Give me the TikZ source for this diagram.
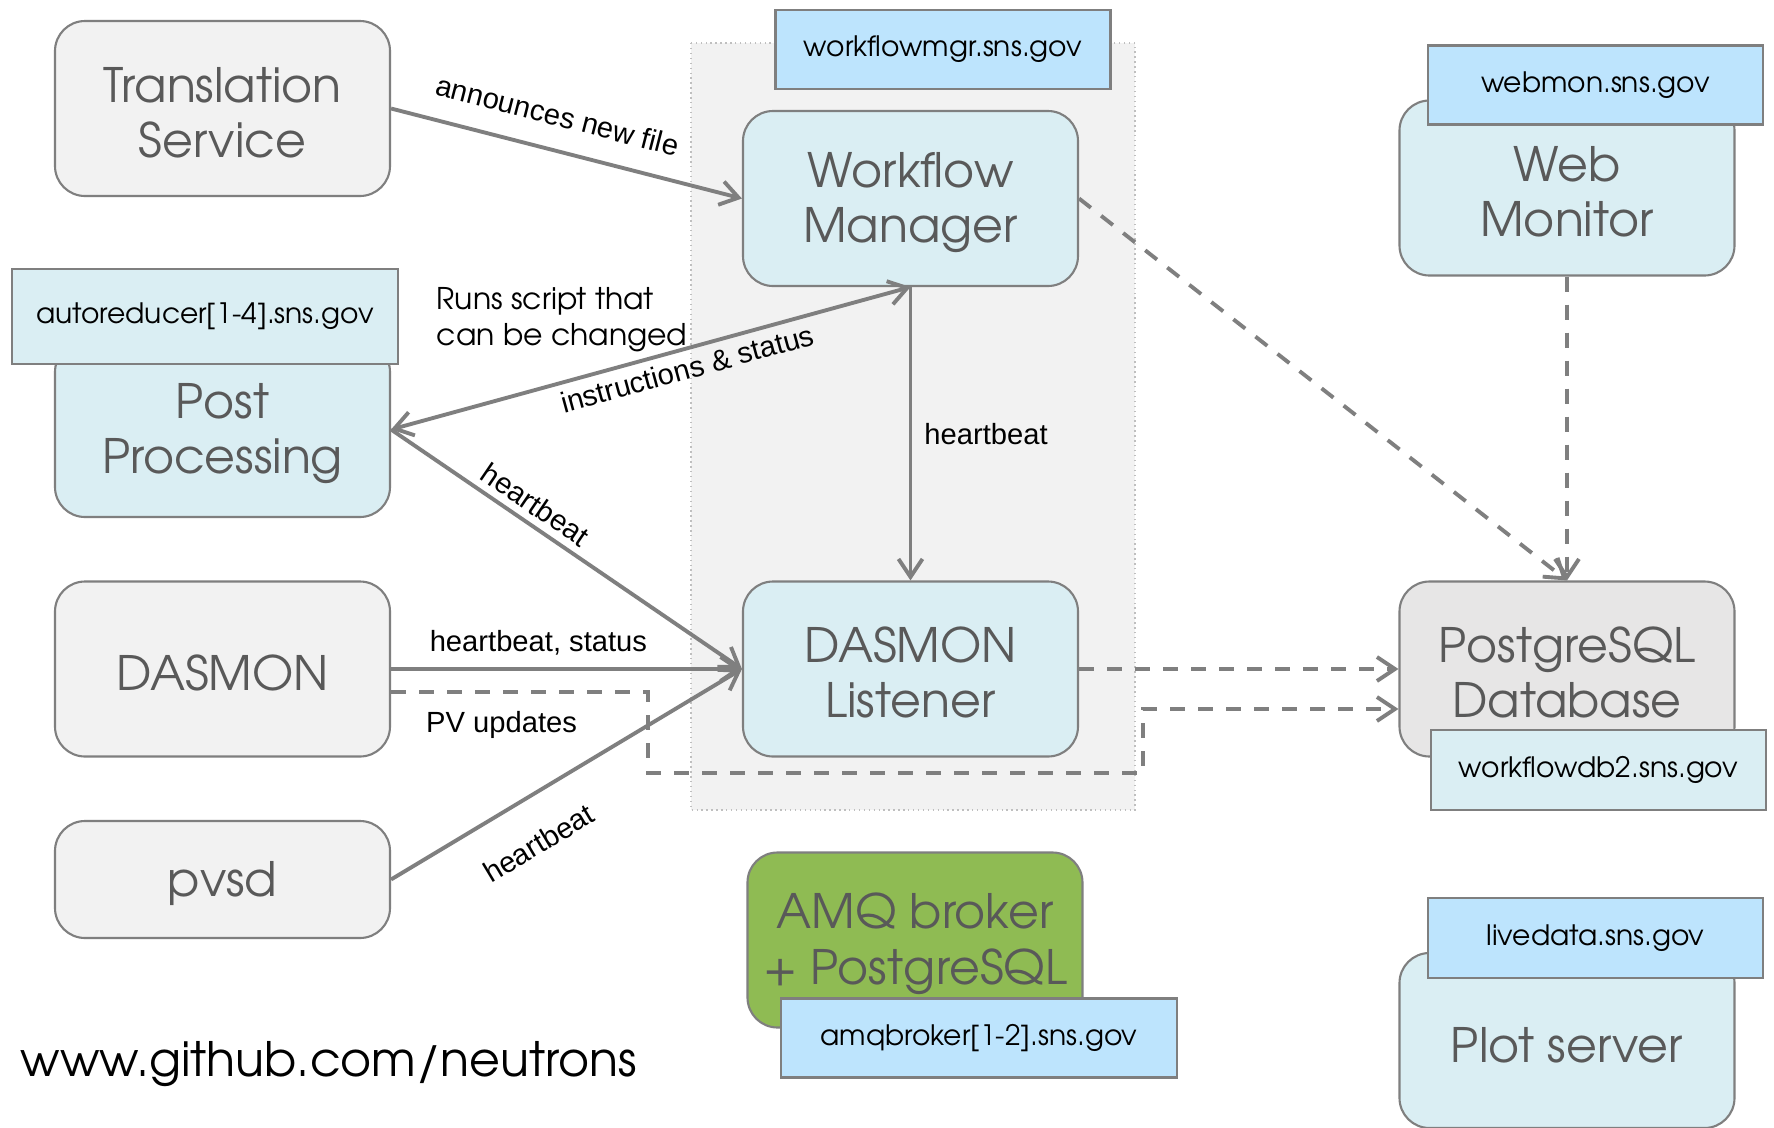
\documentclass[tikz,border=0pt]{standalone}
\usepackage{fontspec}
\setmainfont{Liberation Sans}
\newfontfamily\gothic{TeX Gyre Adventor}
\usetikzlibrary{positioning, arrows.meta}

\definecolor{boxgray}{HTML}{F2F2F2}
\definecolor{boxblue}{HTML}{DAEEF3}
\definecolor{hostblue}{HTML}{BDE4FD}
\definecolor{dbgray}{HTML}{E7E6E6}
\definecolor{amqgreen}{HTML}{8FBB53}
\definecolor{linegray}{HTML}{7F7F7F}
\definecolor{textgray}{HTML}{595959}

\begin{document}
\begin{tikzpicture}[
    >={Straight Barb[length=1.8mm, width=2.4mm]},
    box/.style={draw=linegray, line width=0.6pt, rounded corners=0.3cm, fill=boxgray,
        minimum width=3.35cm, minimum height=1.75cm, align=center, text=textgray,
        font=\gothic\fontsize{13.5}{15.7}\selectfont,
        execute at begin node={\rule{0pt}{12.5pt}}},
    twoline/.style={box, execute at begin node={\rule{0pt}{28pt}}},
    hostbox/.style={draw=linegray, line width=0.7pt, fill=hostblue, minimum width=3.35cm,
        minimum height=0.79cm, font=\gothic\fontsize{8}{9.6}\selectfont},
    link/.style={->, draw=linegray, line width=1.1pt},
    dlink/.style={link, dash pattern=on 1.5mm off 1.3mm},
    lbl/.style={font=\fontsize{8.3}{10}\selectfont, inner sep=2pt}
]
    \useasboundingbox[fill=white] (0,0) rectangle (17.74,-11.28);

    % workflow host group
    \draw[densely dotted, draw=black!25, fill=boxgray] (6.91,-0.43) rectangle (11.35,-8.10);

    % Boxes
    \node[twoline] (trans) at (2.225,-1.085) {Translation\\Service};
    \node[twoline, fill=boxblue] (wfm) at (9.105,-1.985) {Workflow\\Manager};
    \node[twoline, fill=boxblue] (web) at (15.67,-1.88) {Web\\Monitor};
    \node[twoline, fill=boxblue] (post) at (2.225,-4.295) {Post\\Processing};
    \node[box] (dasmon) at (2.225,-6.69) {DASMON};
    \node[twoline, fill=boxblue] (listener) at (9.105,-6.69) {DASMON\\Listener};
    \node[twoline, fill=dbgray] (db) at (15.67,-6.69) {PostgreSQL\\Database};
    \node[box, minimum height=1.17cm] (pvsd) at (2.225,-8.795) {pvsd};
    \node[twoline, fill=amqgreen] (amq) at (9.15,-9.4) {AMQ broker\\+ PostgreSQL};
    \node[box, fill=boxblue] (plot) at (15.67,-10.405) {Plot server};

    % Host names
    \node[hostbox] (wfmhost) at (9.43,-0.495) {workflowmgr.sns.gov};
    \node[hostbox] (webhost) at (15.955,-0.85) {webmon.sns.gov};
    \node[hostbox, fill=boxblue, minimum width=3.86cm, minimum height=0.95cm] (arhost) at (2.05,-3.165) {autoreducer[1-4].sns.gov};
    \node[hostbox, fill=boxblue, minimum height=0.8cm] (dbhost) at (15.985,-7.70) {workflowdb2.sns.gov};
    \node[hostbox, minimum width=3.96cm] (amqhost) at (9.79,-10.38) {amqbroker[1-2].sns.gov};
    \node[hostbox, minimum height=0.8cm] (livehost) at (15.955,-9.38) {livedata.sns.gov};

    \node[align=left, inner sep=0pt, font=\gothic\fontsize{8.5}{10.2}\selectfont] (note) at (5.62,-3.20) {Runs script that\\can be changed};
    \node[anchor=west, inner sep=0pt, font=\gothic\fontsize{13.5}{15}\selectfont] (github) at (0.20,-10.64) {www.github.com/neutrons};

    % Messages
    \draw[link] (trans.east) -- node[lbl, sloped, above=1.5mm, pos=0.45] {announces new file} (wfm.west);
    \draw[link, <->] (wfm.south) -- node[lbl, sloped, below, pos=0.44] {instructions \& status} (post.east);
    \draw[link] (wfm.south) -- node[lbl, right, xshift=0.5mm] {heartbeat} (listener.north);
    \draw[link] (post.east) -- node[lbl, sloped, above, pos=0.38] {heartbeat} (listener.west);
    \draw[link] (dasmon.east) -- node[lbl, above, pos=0.42, yshift=0.5mm] {heartbeat, status} (listener.west);
    \draw[link] (pvsd.east) -- node[lbl, sloped, below=2.5mm, pos=0.355] {heartbeat} (listener.west);

    % Database writes
    \draw[dlink] ([yshift=-2.3mm]dasmon.east) -- node[lbl, below, pos=0.43, yshift=-1mm] {PV updates} ++(2.57,0)
        |- (11.43,-7.73) |- ([yshift=-4mm]db.west);
    \draw[dlink] (listener.east) -- (db.west);
    \draw[dlink] (wfm.east) -- (db.north);
    \draw[dlink] (web.south) -- (db.north);

\end{tikzpicture}
\end{document}
